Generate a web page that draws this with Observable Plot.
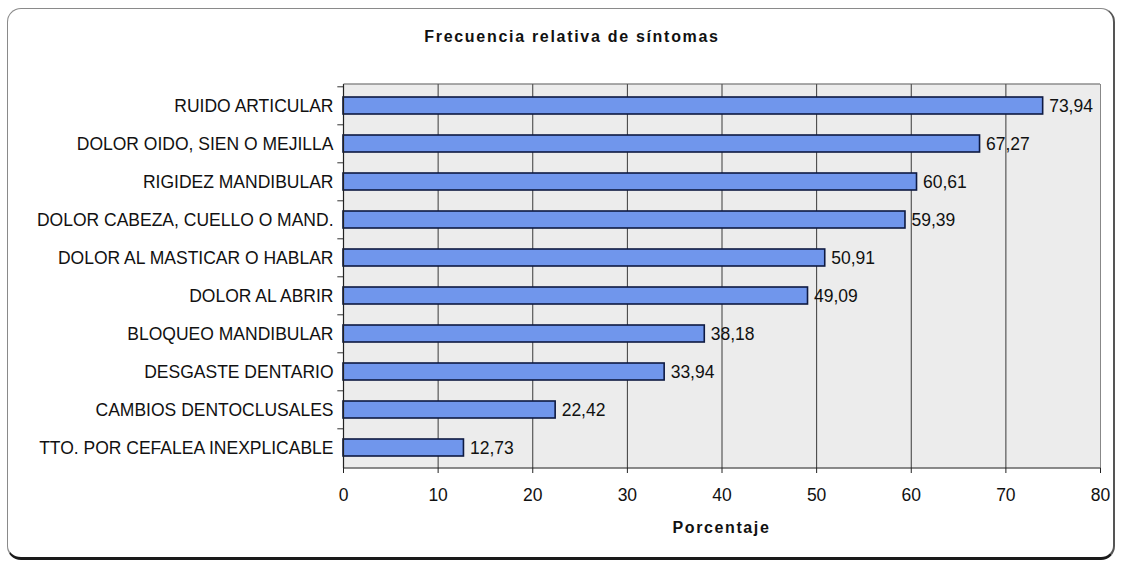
<!DOCTYPE html>
<html>
<head>
<meta charset="utf-8">
<script src="https://cdn.jsdelivr.net/npm/d3@7"></script>
<script src="https://cdn.jsdelivr.net/npm/@observablehq/plot@0.6"></script>
<style>
  html, body { margin: 0; padding: 0; background: #fff; }
  #wrap { position: relative; width: 1124px; height: 571px; overflow: hidden; font-family: "Liberation Sans", Arial, sans-serif; }
  #box { position: absolute; left: 7px; top: 8px; width: 1108px; height: 552px;
         border: 1.5px solid #8a8a8a; border-bottom: 3px solid #1a1a1a; border-right: 2px solid #555;
         border-radius: 14px; box-sizing: border-box; }
  #title { position: absolute; left: 10px; width: 1124px; top: 28px; text-align: center;
           font-weight: bold; font-size: 16px; letter-spacing: 1.7px; color: #111; }
  #xlabel { position: absolute; left: 343px; width: 757px; top: 519px; text-align: center;
            font-weight: bold; font-size: 16px; letter-spacing: 1.6px; color: #111; }
  #chart { position: absolute; left: 0; top: 0; }
</style>
</head>
<body>
<div id="wrap">
  <div id="box"></div>
  <div id="chart"></div>
  <div id="title">Frecuencia relativa de síntomas</div>
  <div id="xlabel">Porcentaje</div>
</div>
<script>
const categories = [
  "RUIDO ARTICULAR",
  "DOLOR OIDO, SIEN O MEJILLA",
  "RIGIDEZ MANDIBULAR",
  "DOLOR CABEZA, CUELLO O MAND.",
  "DOLOR AL MASTICAR O HABLAR",
  "DOLOR AL ABRIR",
  "BLOQUEO MANDIBULAR",
  "DESGASTE DENTARIO",
  "CAMBIOS DENTOCLUSALES",
  "TTO. POR CEFALEA INEXPLICABLE"
];
const values = [73.94, 67.27, 60.61, 59.39, 50.91, 49.09, 38.18, 33.94, 22.42, 12.73];
const xTicks = [0, 10, 20, 30, 40, 50, 60, 70, 80];

const data = categories.map((c, i) => ({cat: c, val: values[i]}));
const fmt = v => v.toFixed(2).replace(".", ",");

const chart = Plot.plot({
  width: 1124,
  height: 571,
  marginLeft: 343,
  marginRight: 24,
  marginTop: 84,
  marginBottom: 103,
  style: {fontFamily: "'Liberation Sans', Arial, sans-serif", fontSize: "17.5px", color: "#111", background: "transparent"},
  x: {domain: [0, 80]},
  y: {domain: categories, paddingInner: 0.56, paddingOuter: 0.28},
  marks: [
    Plot.frame({fill: "#ececec", stroke: "none"}),
    Plot.ruleX(xTicks.filter(t => t > 0 && t < 80), {stroke: "#3a3a3a", strokeWidth: 1}),
    Plot.ruleX([80], {stroke: "#888", strokeWidth: 1}),
    Plot.barX(data, {x: "val", y: "cat", fill: "#7096ec", stroke: "#0e1a42", strokeWidth: 1.6}),
    Plot.text(data, {x: "val", y: "cat", text: d => fmt(d.val), textAnchor: "start", dx: 6, fontSize: 17.5, fill: "#111"}),
    Plot.ruleY(categories, {y: d => d, x1: -0.6, x2: 0, dy: -19.2, stroke: "#333", strokeWidth: 1}),
    Plot.ruleX([0], {stroke: "#222", strokeWidth: 1.2}),
    Plot.axisY({tickSize: 0, tickPadding: 10, label: null, fontSize: 17.5}),
    Plot.axisX({ticks: xTicks, tickSize: 5, tickPadding: 15, label: null, fontSize: 17.5, stroke: "#222"})
  ]
});
document.getElementById("chart").appendChild(chart);

// top border line of plot area and bottom axis line
const svg = d3.select(chart);
svg.append("line").attr("x1", 343.5).attr("x2", 1100).attr("y1", 84).attr("y2", 84).attr("stroke", "#555");
svg.append("line").attr("x1", 343).attr("x2", 1100.5).attr("y1", 468).attr("y2", 468).attr("stroke", "#222").attr("stroke-width", 1.2);
</script>
</body>
</html>
